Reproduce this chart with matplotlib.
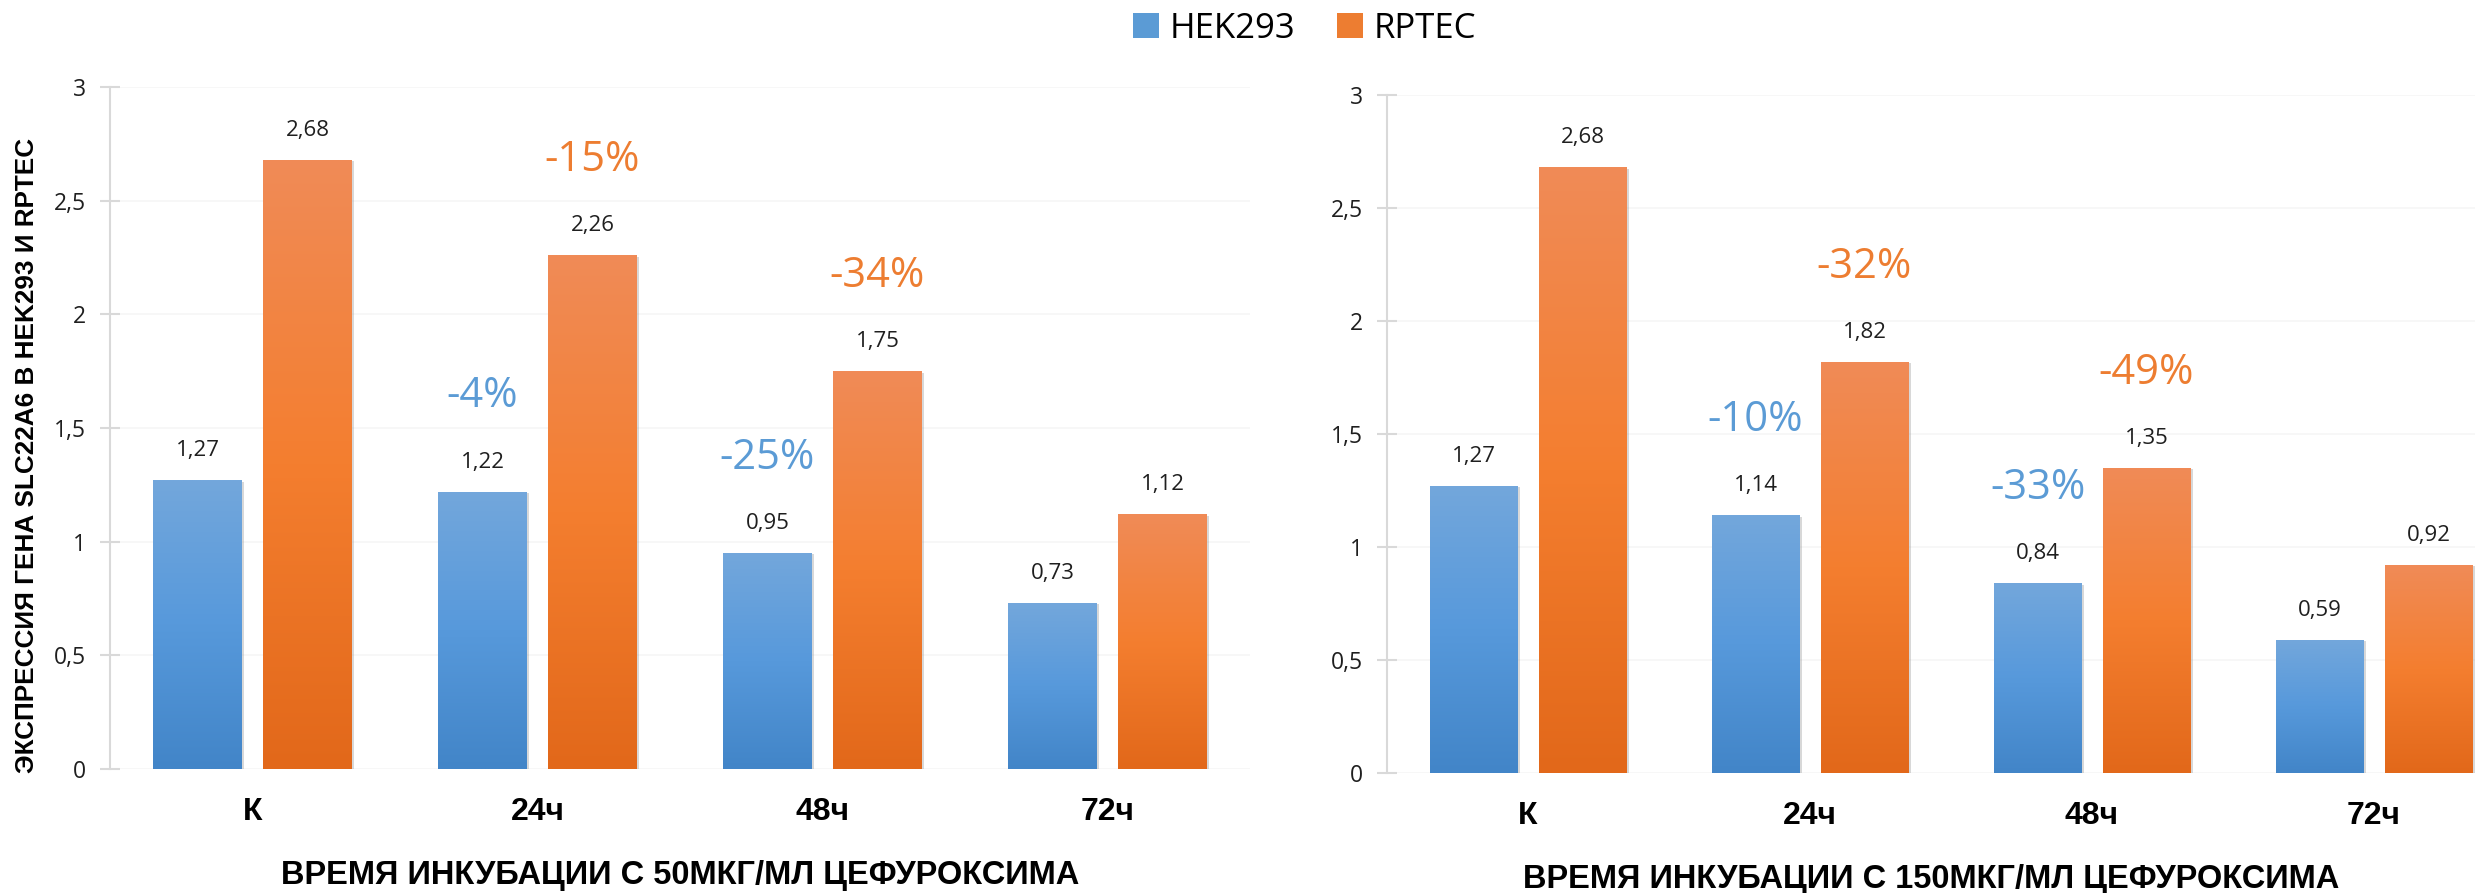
import numpy as np
import matplotlib
matplotlib.use('Agg')
import matplotlib.pyplot as plt
from matplotlib.colors import LinearSegmentedColormap
from matplotlib.patches import Patch
from matplotlib.ticker import FuncFormatter, MultipleLocator
import matplotlib.patheffects as pe

plt.rcParams['font.family'] = ['Open Sans', 'DejaVu Sans']

# ---- data ----
categories = ['К', '24ч', '48ч', '72ч']
series_names = ['HEK293', 'RPTEC']

hek_50 = [1.27, 1.22, 0.95, 0.73]
rptec_50 = [2.68, 2.26, 1.75, 1.12]
hek_150 = [1.27, 1.14, 0.84, 0.59]
rptec_150 = [2.68, 1.82, 1.35, 0.92]

pct_hek_50 = [None, '-4%', '-25%', None]
pct_rptec_50 = [None, '-15%', '-34%', None]
pct_hek_150 = [None, '-10%', '-33%', None]
pct_rptec_150 = [None, '-32%', '-49%', None]

ylabel_text = 'ЭКСПРЕССИЯ ГЕНА SLC22A6 В HEK293 И RPTEC'
xlabel_50 = 'ВРЕМЯ ИНКУБАЦИИ С 50МКГ/МЛ ЦЕФУРОКСИМА'
xlabel_150 = 'ВРЕМЯ ИНКУБАЦИИ С 150МКГ/МЛ ЦЕФУРОКСИМА'

# ---- styles ----
blue_cmap = LinearSegmentedColormap.from_list('blue', ['#4285c8', '#5799db', '#73a7dc'])
orange_cmap = LinearSegmentedColormap.from_list('orange', ['#e2681a', '#f47e2f', '#f08b57'])
blue_txt = '#5b9bd5'
orange_txt = '#ed7d31'
axis_grey = '#d9d9d9'
bold_family = ['Liberation Sans', 'DejaVu Sans']

width = 0.31
offset = 0.193


def comma(v):
    return ('%.2f' % v).replace('.', ',')


def gradient_bars(ax, xs, vals, cmap):
    bars = ax.bar(xs, vals, width, color='none', zorder=3)
    grad = np.linspace(0, 1, 256).reshape(-1, 1)
    for b in bars:
        x0, w, h = b.get_x(), b.get_width(), b.get_height()
        shadow = plt.Rectangle((x0, 0), w, h, facecolor='white', edgecolor='none', zorder=2,
                               path_effects=[pe.SimplePatchShadow(offset=(2, -1), shadow_rgbFace='#909090', alpha=0.35)])
        ax.add_patch(shadow)
        im = ax.imshow(grad, cmap=cmap, origin='lower', extent=[x0, x0 + w, 0, h],
                       aspect='auto', zorder=3, interpolation='bilinear')
        im.set_clip_path(b)
    return bars


def panel(ax, hek, rptec, pct_hek, pct_rptec, xlabel, xmax):
    x = np.arange(len(categories))
    gradient_bars(ax, x - offset, hek, blue_cmap)
    gradient_bars(ax, x + offset, rptec, orange_cmap)

    for xi, v in zip(x - offset, hek):
        ax.text(xi, v + 0.13, comma(v), ha='center', va='center', fontsize=16, color='#1f1f1f')
    for xi, v in zip(x + offset, rptec):
        ax.text(xi, v + 0.13, comma(v), ha='center', va='center', fontsize=16, color='#1f1f1f')
    for xi, v, p in zip(x - offset, hek, pct_hek):
        if p:
            ax.text(xi, v + 0.42, p, ha='center', va='center', fontsize=30, color=blue_txt)
    for xi, v, p in zip(x + offset, rptec, pct_rptec):
        if p:
            ax.text(xi, v + 0.42, p, ha='center', va='center', fontsize=30, color=orange_txt)

    ax.set_xlim(-0.5, xmax)
    ax.set_ylim(0, 3)
    ax.set_xticks(x)
    ax.set_xticklabels(categories, fontsize=23, fontweight='bold', family=bold_family)
    ax.tick_params(axis='x', length=0, pad=20)
    ax.yaxis.set_major_locator(MultipleLocator(0.5))
    ax.yaxis.set_major_formatter(FuncFormatter(lambda v, p: ('%g' % v).replace('.', ',')))
    ax.tick_params(axis='y', direction='inout', length=14, width=1.5, color=axis_grey,
                   labelsize=16.5, labelcolor='#1f1f1f', pad=10)
    ax.grid(axis='y', color='#f6f6f6', linewidth=1.2, zorder=0)
    ax.set_axisbelow(True)
    for s in ['top', 'right', 'bottom']:
        ax.spines[s].set_visible(False)
    ax.spines['left'].set_color(axis_grey)
    ax.spines['left'].set_linewidth(1.5)
    ax.set_xlabel(xlabel, fontsize=23.5, fontweight='bold', family=bold_family, labelpad=24)


fig = plt.figure(figsize=(24.75, 8.93), dpi=100)
ax1 = fig.add_axes([110 / 2475, 124 / 893, 1140 / 2475, 682 / 893])
ax2 = fig.add_axes([1387 / 2475, 120 / 893, 1088 / 2475, 678 / 893])

panel(ax1, hek_50, rptec_50, pct_hek_50, pct_rptec_50, xlabel_50, 3.5)
panel(ax2, hek_150, rptec_150, pct_hek_150, pct_rptec_150, xlabel_150, 3.358)

fig.text(27 / 2475, 0.49, ylabel_text, rotation=90, ha='center', va='center',
         fontsize=18.8, fontweight='bold', family=bold_family)

handles = [Patch(facecolor='#5b9bd5'), Patch(facecolor='#ed7d31')]
fig.legend(handles, series_names, loc='center', bbox_to_anchor=(0.527, 0.968), ncol=2,
           frameon=False, fontsize=25, handlelength=0.75, handleheight=0.75,
           handletextpad=0.3, columnspacing=1.2)

fig.savefig('out.png', dpi=100, facecolor='white')
